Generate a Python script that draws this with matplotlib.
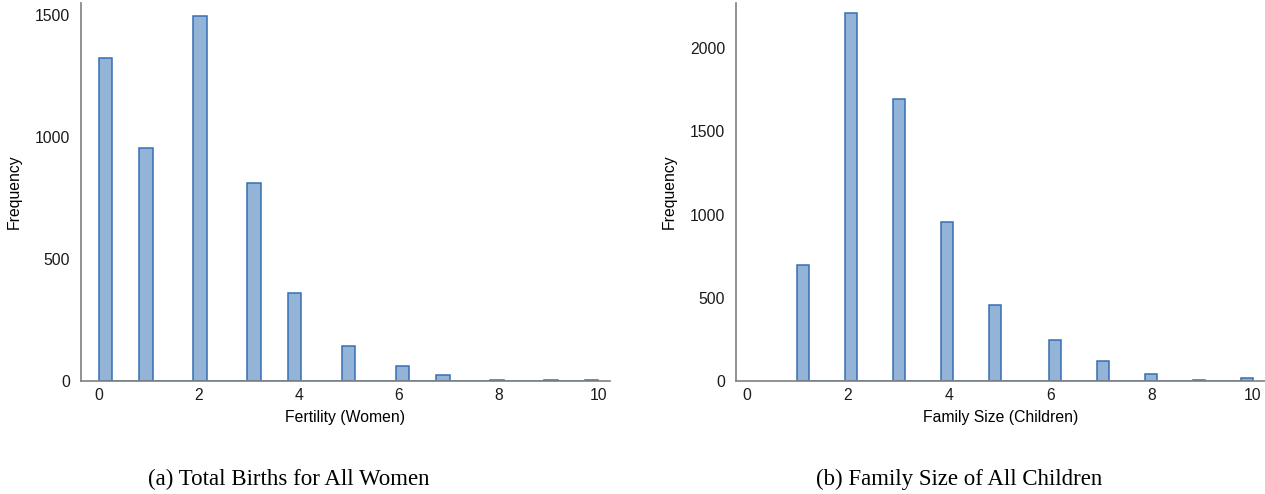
import numpy as np
import matplotlib.pyplot as plt

# births per woman (0..10) and family size of children (1..10)
fert_vals = [0, 1, 2, 3, 4, 5, 6, 7, 8, 9, 10]
fert_freq = [1326, 955, 1496, 810, 360, 141, 60, 26, 5, 2, 2]

fam_vals = [1, 2, 3, 4, 5, 6, 7, 8, 9, 10]
fam_freq = [697, 2210, 1697, 954, 457, 243, 117, 40, 8, 15]

x_ticks = [0, 2, 4, 6, 8, 10]

plt.rcParams['font.family'] = ['Liberation Sans', 'DejaVu Sans']
plt.rcParams['font.size'] = 11.3

FILL = '#93b3d7'
EDGE = '#3470b4'
AXC = '#7f7f7f'

fig = plt.figure(figsize=(12.65, 4.94), dpi=100)
ax1 = fig.add_axes([0.064, 0.229, 0.418, 0.765])
ax2 = fig.add_axes([0.582, 0.229, 0.418, 0.765])


def style(ax):
    for s in ['top', 'right']:
        ax.spines[s].set_visible(False)
    for s in ['left', 'bottom']:
        ax.spines[s].set_color(AXC)
        ax.spines[s].set_linewidth(1.2)
    ax.tick_params(axis='both', length=0, colors='#1a1a1a')
    ax.tick_params(axis='y', pad=8)
    ax.tick_params(axis='x', pad=5)
    ax.set_xticks(x_ticks)


ax1.hist(fert_vals, bins=37, range=(0, 10), weights=fert_freq,
         color=FILL, edgecolor=EDGE, linewidth=1.1)
ax1.set_xlim(-0.36, 10.23)
ax1.set_ylim(0, 1550)
ax1.set_yticks([0, 500, 1000, 1500])
ax1.set_xlabel('Fertility (Women)', labelpad=5)
ax1.set_ylabel('Frequency', labelpad=9)
style(ax1)

ax2.hist(fam_vals, bins=38, range=(1, 10), weights=fam_freq,
         color=FILL, edgecolor=EDGE, linewidth=1.1)
ax2.set_xlim(-0.2, 10.24)
ax2.set_ylim(0, 2272)
ax2.set_yticks([0, 500, 1000, 1500, 2000])
ax2.set_xlabel('Family Size (Children)', labelpad=5)
ax2.set_ylabel('Frequency', labelpad=9)
style(ax2)

cap_font = ['Liberation Serif', 'DejaVu Serif']
fig.text(0.2285, 0.008, '(a) Total Births for All Women', ha='center', va='bottom',
         family=cap_font, fontsize=16.5)
fig.text(0.758, 0.008, '(b) Family Size of All Children', ha='center', va='bottom',
         family=cap_font, fontsize=16.5)

fig.savefig('out.png', dpi=100)
